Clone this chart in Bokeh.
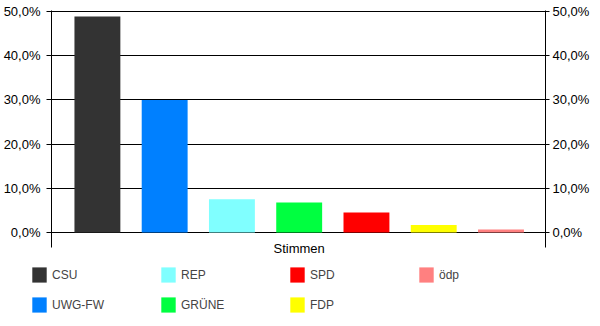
from bokeh.plotting import figure
from bokeh.layouts import column
from bokeh.models import ColumnDataSource, LinearAxis, FixedTicker, CustomJSTickFormatter, Range1d, Label
from bokeh.embed import file_html
from bokeh.resources import INLINE

parties = ["CSU", "UWG-FW", "REP", "GRÜNE", "SPD", "FDP", "ödp"]
shares = [48.9, 30.0, 7.5, 6.8, 4.5, 1.7, 0.7]
colors = ["#333333", "#0080FF", "#80FFFF", "#00FF40", "#FF0000", "#FFFF00", "#FF8080"]
category = "Stimmen"
y_ticks = [0, 10, 20, 30, 40, 50]

src = ColumnDataSource(dict(x=list(range(len(parties))), top=shares, color=colors, party=parties))

FONT = "Liberation Sans"

# main chart
p = figure(width=600, height=256, output_backend="svg", toolbar_location=None,
           x_range=Range1d(-0.6825, 6.662), y_range=Range1d(-5.43, 50.23),
           x_axis_location=None, y_axis_location=None,
           min_border_left=50, min_border_right=55, min_border_top=10, min_border_bottom=0)
p.outline_line_color = None
p.background_fill_color = "white"
p.border_fill_color = "white"
p.frame_align = False

p.vbar(x="x", top="top", width=0.6825, bottom=0, color="color", line_color=None, source=src)

fmt = CustomJSTickFormatter(code="return tick.toFixed(1).replace('.', ',') + '%';")
for side, tout, stand in (("left", 5, 6), ("right", 4, 3)):
    ax = LinearAxis(ticker=FixedTicker(ticks=y_ticks), formatter=fmt, bounds=(-3.39, 50.23))
    ax.major_tick_out = tout
    ax.major_tick_in = 0
    ax.minor_tick_out = 0
    ax.minor_tick_in = 0
    ax.major_label_standoff = stand
    ax.axis_line_color = "black"
    ax.major_tick_line_color = "black"
    ax.major_label_text_font = FONT
    ax.major_label_text_font_size = "13px"
    ax.major_label_text_color = "black"
    p.add_layout(ax, side)

p.ygrid.ticker = FixedTicker(ticks=y_ticks)
p.ygrid.grid_line_color = "black"
p.xgrid.visible = False

p.add_layout(Label(x=3, y=-2.0, text=category, text_align="center", text_baseline="top",
                   text_font=FONT, text_font_size="13px", text_color="black"))

# legend strip
q = figure(width=600, height=70, output_backend="svg", toolbar_location=None,
           x_range=Range1d(-0.6825, 6.662), y_range=Range1d(100, 200),
           x_axis_location=None, y_axis_location=None,
           min_border_left=0, min_border_right=0, min_border_top=0, min_border_bottom=0)
q.outline_line_color = None
q.xgrid.visible = False
q.ygrid.visible = False
q.border_fill_color = "white"
q.frame_align = False
q.vbar(x="x", top="top", width=0.6825, bottom=0, color="color", line_color=None,
       source=src, legend_field="party")

lg = q.legend[0]
lg.orientation = "vertical"
lg.nrows = 2
lg.location = (30, 12)
lg.padding = 0
lg.margin = 0
lg.spacing = 11
lg.glyph_width = 18
lg.glyph_height = 19
lg.label_height = 19
lg.label_width = 96
lg.label_standoff = 4
lg.label_text_font = FONT
lg.label_text_font_size = "12px"
lg.border_line_color = None
lg.background_fill_alpha = 0

layout = column(p, q, spacing=0)
open("out.html", "w").write(file_html(layout, INLINE))
